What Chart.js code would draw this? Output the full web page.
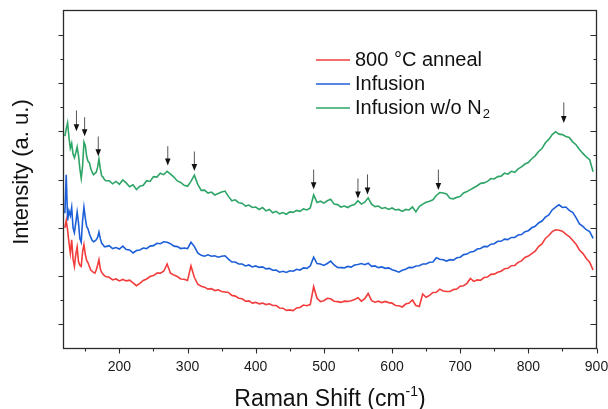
<!DOCTYPE html>
<html>
<head>
<meta charset="utf-8">
<script src="https://cdn.jsdelivr.net/npm/chart.js@4"></script>
<style>
  html, body { margin: 0; padding: 0; background: #fff; }
  #wrap { width: 608px; height: 409px; }
</style>
</head>
<body>
<div id="wrap"><canvas id="raman-chart" width="608" height="409"></canvas></div>
<script>
// Raman shift (cm-1), shared by all three spectra
const ramanShift = [
    120, 122, 124, 126, 128, 130, 132, 134, 136, 138, 140, 142, 144, 146, 148, 150,
    152, 154, 156, 158, 160, 162, 164, 166, 168, 170, 172, 174, 176, 178, 180,
    185, 190, 195, 200, 205, 210, 215, 220, 225, 230, 235, 240, 245, 250, 255, 260,
    265, 270, 275, 280, 285, 290, 295, 300, 305, 310, 315, 320, 325, 330, 335, 340,
    345, 350, 355, 360, 365, 370, 375, 380, 385, 390, 395, 400, 405, 410, 415, 420,
    425, 430, 435, 440, 445, 450, 455, 460, 465, 470, 475, 480, 485, 490, 495, 500,
    505, 510, 515, 520, 525, 530, 535, 540, 545, 550, 555, 560, 565, 570, 575, 580,
    585, 590, 595, 600, 605, 610, 615, 620, 625, 630, 635, 640, 645, 650, 655, 660,
    665, 670, 675, 680, 685, 690, 695, 700, 705, 710, 715, 720, 725, 730, 735, 740,
    745, 750, 755, 760, 765, 770, 775, 780, 785, 790, 795, 800, 805, 810, 815, 820,
    825, 830, 835, 840, 845, 850, 855, 860, 865, 870, 875, 880, 885, 890, 895
];

// intensity (a. u., stacked offsets as plotted)
const anneal800 = [
    5.00, 5.30, 4.90, 4.40, 3.95, 4.50, 3.70, 3.40, 3.90, 4.20, 3.60, 3.45, 3.40, 4.00, 4.30, 3.90,
    3.65, 3.55, 3.40, 3.25, 3.20, 3.15, 3.12, 3.25, 3.45, 3.68, 3.30, 3.15, 3.08, 3.02, 2.98,
    2.95, 2.84, 2.88, 2.80, 2.86, 2.80, 2.83, 2.72, 2.60, 2.70, 2.82, 2.88, 2.98, 3.02, 3.12, 3.12,
    3.20, 3.50, 3.12, 3.04, 2.98, 2.88, 2.87, 2.82, 3.42, 2.95, 2.66, 2.58, 2.54, 2.46, 2.48, 2.40,
    2.43, 2.36, 2.34, 2.32, 2.20, 2.17, 2.08, 2.06, 1.96, 1.97, 1.88, 1.91, 1.85, 1.88, 1.82, 1.85,
    1.78, 1.78, 1.68, 1.67, 1.58, 1.60, 1.57, 1.68, 1.70, 1.80, 1.77, 1.82, 2.56, 2.08, 1.94, 1.98,
    2.08, 2.06, 1.96, 1.94, 1.91, 1.96, 1.95, 1.98, 2.03, 2.10, 1.96, 2.06, 2.28, 1.98, 1.92, 1.96,
    1.90, 1.95, 1.90, 1.88, 1.78, 1.77, 1.72, 1.84, 1.88, 2.01, 1.78, 1.74, 2.26, 2.12, 2.20, 2.32,
    2.33, 2.46, 2.38, 2.36, 2.36, 2.44, 2.46, 2.58, 2.60, 2.70, 2.90, 2.78, 2.84, 2.83, 2.94, 2.96,
    3.07, 3.08, 3.16, 3.20, 3.30, 3.32, 3.43, 3.44, 3.57, 3.63, 3.77, 3.83, 3.93, 4.03, 4.22, 4.33,
    4.56, 4.68, 4.84, 4.92, 4.90, 4.86, 4.74, 4.64, 4.48, 4.32, 4.08, 3.94, 3.73, 3.57, 3.25
];

const infusion = [
    5.60, 7.20, 5.30, 5.70, 5.50, 5.85, 5.00, 4.80, 5.20, 5.65, 5.20, 4.55, 4.40, 5.30, 5.85, 5.40,
    5.05, 4.95, 4.75, 4.60, 4.48, 4.42, 4.45, 4.50, 4.60, 4.82, 4.55, 4.36, 4.30, 4.22, 4.22,
    4.26, 4.14, 4.18, 4.12, 4.24, 4.10, 4.08, 3.96, 4.06, 4.08, 4.16, 4.14, 4.24, 4.26, 4.36, 4.34,
    4.42, 4.40, 4.34, 4.24, 4.22, 4.14, 4.16, 4.14, 4.40, 4.22, 3.96, 3.86, 3.82, 3.88, 3.82, 3.84,
    3.78, 3.82, 3.84, 3.70, 3.58, 3.58, 3.50, 3.50, 3.42, 3.46, 3.38, 3.42, 3.36, 3.38, 3.30, 3.32,
    3.24, 3.25, 3.16, 3.20, 3.15, 3.22, 3.20, 3.28, 3.25, 3.34, 3.32, 3.42, 3.78, 3.52, 3.50, 3.44,
    3.52, 3.62, 3.46, 3.36, 3.35, 3.34, 3.40, 3.37, 3.46, 3.48, 3.52, 3.47, 3.53, 3.40, 3.42, 3.35,
    3.38, 3.32, 3.34, 3.26, 3.22, 3.16, 3.24, 3.28, 3.36, 3.35, 3.42, 3.43, 3.50, 3.50, 3.57, 3.58,
    3.76, 3.70, 3.68, 3.62, 3.68, 3.66, 3.76, 3.78, 3.89, 3.91, 4.00, 4.02, 4.12, 4.14, 4.23, 4.22,
    4.32, 4.34, 4.44, 4.44, 4.53, 4.51, 4.60, 4.60, 4.70, 4.72, 4.84, 4.88, 5.00, 5.06, 5.20, 5.28,
    5.44, 5.53, 5.74, 5.86, 5.95, 5.84, 5.86, 5.72, 5.64, 5.42, 5.16, 5.06, 4.92, 4.84, 4.56
];

const infusionNoN2 = [
    8.80, 9.10, 9.35, 8.75, 8.30, 8.50, 8.05, 7.90, 8.10, 8.35, 8.00, 7.45, 7.05, 7.55, 8.55, 8.40,
    7.95, 7.75, 7.70, 7.45, 7.30, 7.20, 7.25, 7.30, 7.50, 7.85, 7.45, 7.15, 7.10, 7.00, 6.95,
    6.95, 6.82, 6.92, 6.80, 6.98, 6.86, 6.70, 6.78, 6.58, 6.72, 6.76, 6.95, 6.92, 7.12, 7.10, 7.26,
    7.20, 7.34, 7.22, 7.10, 6.94, 6.88, 6.76, 6.72, 6.92, 7.18, 6.80, 6.55, 6.56, 6.44, 6.48, 6.36,
    6.42, 6.48, 6.52, 6.30, 6.12, 6.16, 6.04, 6.02, 5.90, 5.94, 5.84, 5.86, 5.76, 5.84, 5.70, 5.76,
    5.62, 5.68, 5.58, 5.63, 5.56, 5.66, 5.64, 5.72, 5.68, 5.78, 5.74, 5.82, 6.36, 6.05, 6.10, 6.02,
    6.12, 6.18, 5.98, 5.96, 5.86, 5.90, 5.84, 5.92, 5.96, 6.12, 5.98, 6.06, 6.24, 5.98, 5.88, 5.90,
    5.80, 5.84, 5.76, 5.82, 5.74, 5.76, 5.68, 5.76, 5.74, 5.86, 5.66, 5.88, 5.98, 6.06, 6.10, 6.16,
    6.34, 6.46, 6.44, 6.40, 6.22, 6.20, 6.26, 6.30, 6.44, 6.50, 6.58, 6.66, 6.74, 6.84, 6.86, 6.92,
    7.04, 7.02, 7.12, 7.14, 7.26, 7.22, 7.34, 7.30, 7.44, 7.52, 7.64, 7.70, 7.86, 7.98, 8.16, 8.28,
    8.52, 8.66, 8.86, 8.98, 8.88, 8.86, 8.78, 8.74, 8.56, 8.44, 8.24, 8.08, 7.94, 7.82, 7.32
];

// peak markers (arrows) on the top spectrum
const arrowShifts = [137, 149, 169, 271, 310, 485, 550, 564, 668, 852];
const arrowTops = [9.86, 9.58, 8.78, 8.38, 8.16, 7.41, 7.04, 7.21, 7.41, 10.19];
const arrowTips = [9.00, 8.79, 7.96, 7.58, 7.35, 6.60, 6.21, 6.38, 6.56, 9.34];

const xMajorTicks = [200, 300, 400, 500, 600, 700, 800, 900];
const xMinorTicks = [150, 250, 350, 450, 550, 650, 750, 850];
const yMajorTicks = [1, 3, 5, 7, 9, 11, 13];
const yMinorTicks = [2, 4, 6, 8, 10, 12];

const seriesLabels = ['800 °C anneal', 'Infusion', 'Infusion w/o N'];
const seriesColors = ['#f23c3c', '#1d5fd8', '#2ea566'];

const FONT = '"Liberation Sans", Arial, Helvetica, sans-serif';

function toPoints(values) {
    return values.map((v, i) => ({ x: ramanShift[i], y: v }));
}

const decorations = {
    id: 'decorations',
    afterDraw(chart) {
        const ctx = chart.ctx;
        const a = chart.chartArea;
        const x = chart.scales.x;
        const y = chart.scales.y;
        ctx.save();

        // frame
        ctx.strokeStyle = '#2b2b2b';
        ctx.lineWidth = 1.3;
        ctx.strokeRect(a.left, a.top, a.right - a.left, a.bottom - a.top);

        // tick marks
        ctx.lineWidth = 1.1;
        ctx.beginPath();
        xMajorTicks.forEach(v => {
            const px = Math.round(x.getPixelForValue(v)) + 0.5;
            ctx.moveTo(px, a.bottom); ctx.lineTo(px, a.bottom + 5);
        });
        xMinorTicks.forEach(v => {
            const px = Math.round(x.getPixelForValue(v)) + 0.5;
            ctx.moveTo(px, a.bottom); ctx.lineTo(px, a.bottom + 3);
        });
        yMajorTicks.forEach(v => {
            const py = Math.round(y.getPixelForValue(v)) + 0.5;
            ctx.moveTo(a.left - 5, py); ctx.lineTo(a.left, py);
            ctx.moveTo(a.right - 6, py); ctx.lineTo(a.right, py);
        });
        yMinorTicks.forEach(v => {
            const py = Math.round(y.getPixelForValue(v)) + 0.5;
            ctx.moveTo(a.left - 3, py); ctx.lineTo(a.left, py);
            ctx.moveTo(a.right - 3, py); ctx.lineTo(a.right, py);
        });
        ctx.stroke();

        // arrows
        arrowShifts.forEach((s, i) => {
            const px = x.getPixelForValue(s);
            const top = y.getPixelForValue(arrowTops[i]);
            const tip = y.getPixelForValue(arrowTips[i]);
            ctx.strokeStyle = '#555';
            ctx.lineWidth = 1;
            ctx.beginPath();
            ctx.moveTo(px, top);
            ctx.lineTo(px, tip - 6);
            ctx.stroke();
            ctx.fillStyle = '#111';
            ctx.beginPath();
            ctx.moveTo(px - 2.8, tip - 7);
            ctx.lineTo(px + 2.8, tip - 7);
            ctx.lineTo(px, tip);
            ctx.closePath();
            ctx.fill();
        });

        // legend
        ctx.textBaseline = 'alphabetic';
        ctx.textAlign = 'left';
        const rows = [60, 84, 108];
        seriesLabels.forEach((label, i) => {
            ctx.strokeStyle = seriesColors[i];
            ctx.lineWidth = 1.4;
            ctx.beginPath();
            ctx.moveTo(316, rows[i]);
            ctx.lineTo(350, rows[i]);
            ctx.stroke();
            ctx.fillStyle = '#111';
            ctx.font = '20px ' + FONT;
            ctx.fillText(label, 355, rows[i] + 6);
            if (i === 2) {
                const w = ctx.measureText(label).width;
                ctx.font = '13px ' + FONT;
                ctx.fillText('2', 355 + w + 1, rows[i] + 10);
            }
        });

        // axis titles
        ctx.fillStyle = '#111';
        const main = 'Raman Shift (cm';
        ctx.font = '23px ' + FONT;
        const w1 = ctx.measureText(main).width;
        ctx.font = '14px ' + FONT;
        const w2 = ctx.measureText('-1').width;
        ctx.font = '23px ' + FONT;
        const w3 = ctx.measureText(')').width;
        const cx = (a.left + a.right) / 2;
        const sx = cx - (w1 + w2 + w3) / 2;
        const base = 406;
        ctx.fillText(main, sx, base);
        ctx.font = '14px ' + FONT;
        ctx.fillText('-1', sx + w1, base - 10);
        ctx.font = '23px ' + FONT;
        ctx.fillText(')', sx + w1 + w2, base);

        ctx.save();
        ctx.translate(28, 172);
        ctx.rotate(-Math.PI / 2);
        ctx.textAlign = 'center';
        ctx.font = '22px ' + FONT;
        ctx.fillText('Intensity (a. u.)', 0, 0);
        ctx.restore();

        ctx.restore();
    }
};

const ctx = document.getElementById('raman-chart').getContext('2d');

new Chart(ctx, {
    type: 'line',
    data: {
        datasets: [
            { label: seriesLabels[0], data: toPoints(anneal800) },
            { label: seriesLabels[1], data: toPoints(infusion) },
            { label: seriesLabels[2], data: toPoints(infusionNoN2) }
        ].map((d, i) => Object.assign(d, {
            borderColor: seriesColors[i],
            backgroundColor: seriesColors[i],
            borderWidth: 1.6,
            pointRadius: 0,
            tension: 0,
            fill: false
        }))
    },
    options: {
        responsive: false,
        animation: false,
        layout: {
            autoPadding: false,
            padding: { left: 63.5, right: 11.5, top: 10.5, bottom: 0 }
        },
        plugins: {
            legend: { display: false },
            tooltip: { enabled: false }
        },
        scales: {
            x: {
                type: 'linear',
                min: 118,
                max: 900,
                afterBuildTicks: scale => {
                    scale.ticks = xMajorTicks.map(v => ({ value: v }));
                },
                afterFit: scale => {
                    scale.height = 60.5;
                    scale.paddingLeft = 0;
                    scale.paddingRight = 0;
                },
                grid: { display: false, drawTicks: false },
                border: { display: false },
                ticks: {
                    padding: 10,
                    maxRotation: 0,
                    color: '#1a1a1a',
                    font: { family: FONT, size: 14 }
                }
            },
            y: {
                type: 'linear',
                min: 0,
                max: 14,
                display: false
            }
        }
    },
    plugins: [decorations]
});
</script>
</body>
</html>
